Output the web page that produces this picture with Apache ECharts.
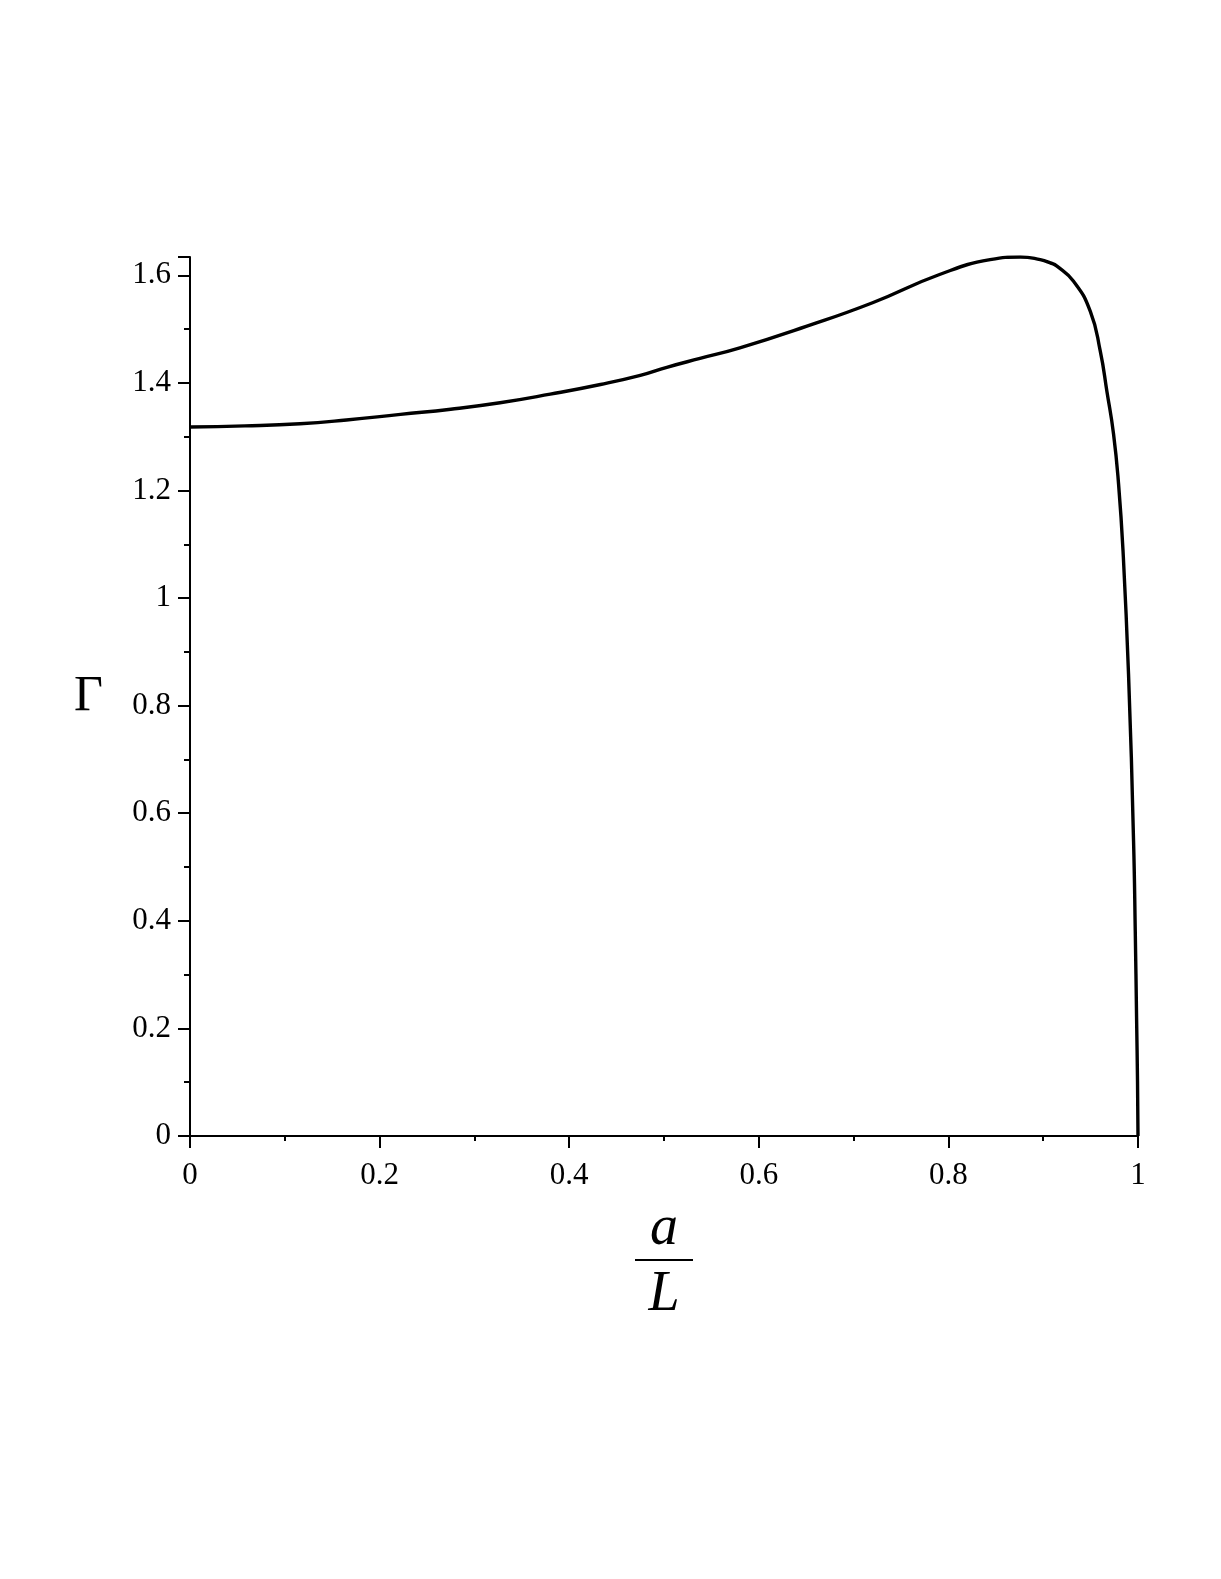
<!DOCTYPE html>
<html>
<head>
<meta charset="utf-8">
<script src="https://cdn.jsdelivr.net/npm/echarts@6/dist/echarts.min.js"></script>
<style>
html, body { margin: 0; padding: 0; background: #fff; }
#main { width: 1221px; height: 1579px; }
</style>
</head>
<body>
<div id="main"></div>
<script>
// values (a/L, Gamma)
var ratio = [0, 0.058, 0.116, 0.165, 0.222, 0.275, 0.327, 0.38, 0.433, 0.475, 0.503, 0.538,
    0.58, 0.65, 0.72, 0.79, 0.844, 0.876, 0.8969, 0.9075, 0.9145, 0.932, 0.9497, 0.9602,
    0.9673, 0.9742, 0.9795, 0.9842, 0.99, 0.9953, 0.9971, 0.9985, 0.9995, 1];
var gamma = [1.318, 1.320, 1.324, 1.331, 1.3415, 1.351, 1.363, 1.379, 1.397, 1.414, 1.429, 1.4455,
    1.465, 1.505, 1.549, 1.601, 1.629, 1.634, 1.629, 1.623, 1.617, 1.589, 1.533, 1.459,
    1.383, 1.305, 1.212, 1.088, 0.859, 0.549, 0.382, 0.22, 0.1, 0];

var xTicks = [0, 0.2, 0.4, 0.6, 0.8, 1];
var yTicks = [0, 0.2, 0.4, 0.6, 0.8, 1, 1.2, 1.4, 1.6];

var points = ratio.map(function (r, i) { return [r, gamma[i]]; });

var dom = document.getElementById("main");
var myChart = echarts.init(dom);

var serif = "'Liberation Serif', 'Times New Roman', serif";

var option = {
    backgroundColor: '#fff',
    animation: false,
    grid: {
        left: 190,
        right: 83,
        top: 257,
        bottom: 443
    },
    xAxis: {
        type: 'value',
        min: xTicks[0],
        max: xTicks[xTicks.length - 1],
        interval: 0.2,
        name: '{a|a}\n{l|L}',
        nameLocation: 'middle',
        nameGap: 66,
        nameTextStyle: {
            rich: {
                a: { fontFamily: serif, fontStyle: 'italic', fontSize: 56, lineHeight: 54, color: '#000' },
                l: { fontFamily: serif, fontStyle: 'italic', fontSize: 56, lineHeight: 78, color: '#000' }
            }
        },
        axisLine: { show: true, onZero: false, lineStyle: { color: '#000', width: 2 } },
        axisTick: { show: true, inside: false, length: 12, lineStyle: { color: '#000', width: 2 } },
        minorTick: { show: true, splitNumber: 2, length: 5, lineStyle: { color: '#000', width: 2 } },
        splitLine: { show: false },
        axisLabel: {
            margin: 24,
            fontFamily: serif,
            fontSize: 31,
            color: '#000'
        }
    },
    yAxis: {
        type: 'value',
        min: yTicks[0],
        max: 1.634,
        interval: 0.2,
        name: 'Γ',
        nameLocation: 'middle',
        nameRotate: 0,
        nameGap: 87,
        nameTextStyle: { fontFamily: serif, fontSize: 50, color: '#000' },
        axisLine: { show: true, onZero: false, lineStyle: { color: '#000', width: 2 } },
        axisTick: { show: true, inside: false, length: 12, lineStyle: { color: '#000', width: 2 } },
        minorTick: { show: true, splitNumber: 2, length: 6, lineStyle: { color: '#000', width: 2 } },
        splitLine: { show: false },
        axisLabel: {
            margin: 19,
            fontFamily: serif,
            fontSize: 31,
            color: '#000',
            showMaxLabel: false
        }
    },
    series: [{
        type: 'line',
        data: points,
        showSymbol: false,
        smooth: 0.5,
        lineStyle: { color: '#000', width: 3.4 }
    }]
};

myChart.setOption(option, true);

// fraction bar of the x-axis name a/L
var cx = myChart.convertToPixel({ xAxisIndex: 0 }, 0.5);
myChart.setOption({
    graphic: [{
        type: 'line',
        shape: { x1: cx - 29, y1: 1260, x2: cx + 29, y2: 1260 },
        style: { stroke: '#000', lineWidth: 2 }
    }]
});

window.addEventListener("resize", function () {
    myChart.resize();
});
</script>
</body>
</html>
